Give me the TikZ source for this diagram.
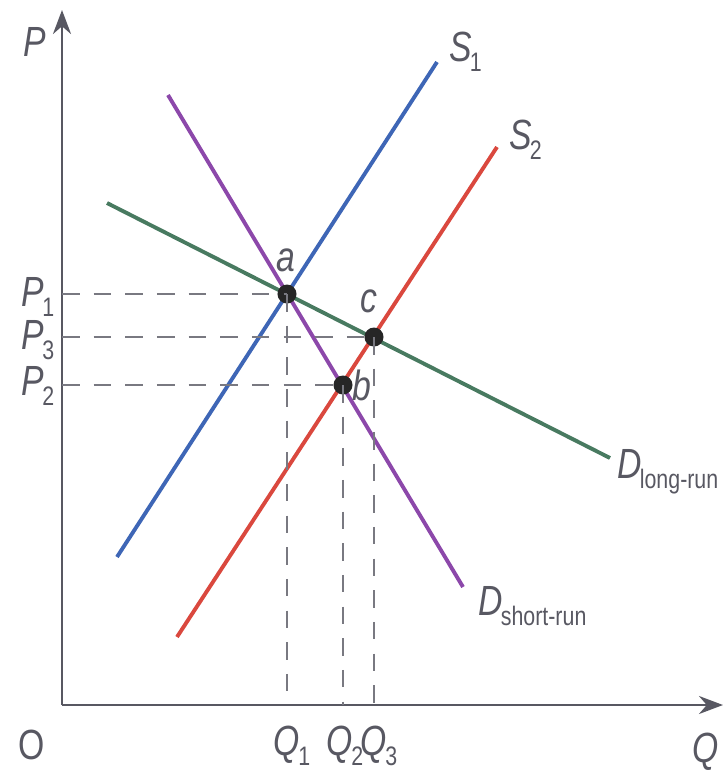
\documentclass[tikz,border=0pt]{standalone}
\usepackage{fontspec}
\setmainfont{Liberation Sans}[FakeStretch=0.8]
\usepackage{xcolor}
\usetikzlibrary{arrows.meta,positioning}
\definecolor{supone}{RGB}{62,102,182}
\definecolor{suptwo}{RGB}{218,72,62}
\definecolor{dlong}{RGB}{72,122,96}
\definecolor{dshort}{RGB}{140,72,170}
\definecolor{axisgray}{RGB}{88,88,98}
\newcommand{\lbl}[2]{\textit{#1}\kern-0.5pt\raisebox{-0.45ex}{\fontsize{7.6}{9}\selectfont #2}}

\begin{document}
\begin{tikzpicture}[x=0.01cm, y=-0.01cm, >={Stealth[length=2.4mm, width=1.8mm]},
  font=\fontsize{12}{14}\selectfont, text=axisgray,
  axis/.style={draw=axisgray, line width=0.7pt},
  curve/.style={line width=1.1pt},
  guide/.style={draw=axisgray!80, line width=0.5pt, dash pattern=on 5pt off 4pt},
  dot/.style={circle, fill=black!85, inner sep=0pt, minimum size=0.19cm},
  tag/.style={inner sep=1pt}]
\useasboundingbox (0,0) rectangle (725,772);
%% axes
\coordinate (O) at (62,705);
\coordinate (ytop) at (62,10);
\coordinate (xend) at (723,705);
\draw[axis, ->] (O) -- (ytop);
\draw[axis, ->] (O) -- (xend);
\node[tag] (plab) at (35,42) {\textit{P}};
\node[tag] (qlab) at (706,752) {\textit{Q}};
\node[tag] (olab) at (32,745) {O};
%% curves
\coordinate (s1a) at (117,557);
\coordinate (s1b) at (437,62);
\coordinate (s2a) at (177,637);
\coordinate (s2b) at (497,147);
\coordinate (dla) at (107,203);
\coordinate (dlb) at (610,458);
\coordinate (dsa) at (168,95);
\coordinate (dsb) at (463,587);
\draw[curve, supone] (s1a) -- (s1b);
\draw[curve, suptwo] (s2a) -- (s2b);
\draw[curve, dlong] (dla) -- (dlb);
\draw[curve, dshort] (dsa) -- (dsb);
%% equilibria
\node[dot] (a) at (287,294) {};
\node[dot] (c) at (374,337) {};
\node[dot] (b) at (343,385) {};
\coordinate (p1) at (62,294);
\coordinate (p3) at (62,337);
\coordinate (p2) at (62,385);
\coordinate (q1) at (287,705);
\coordinate (q3) at (374,705);
\coordinate (q2) at (343,705);
\draw[guide] (p1) -- (a.center);
\draw[guide] (p3) -- (c.center);
\draw[guide] (p2) -- (b.center);
\draw[guide] (a.center) -- (q1);
\draw[guide] (b.center) -- (q2);
\draw[guide] (c.center) -- (q3);
%% labels
\node[tag] (alab) at (286,260) {\textit{a}};
\node[tag] (clab) at (369,301) {\textit{c}};
\node[tag] (blab) at (362,385) {\textit{b}};
\node[tag] (p1lab) at (38,297) {\lbl{P}{1}};
\node[tag] (p3lab) at (38,340) {\lbl{P}{3}};
\node[tag] (p2lab) at (38,386) {\lbl{P}{2}};
\node[tag] (q1lab) at (292,746) {\lbl{Q}{1}};
\node[tag] (q2lab) at (345,746) {\lbl{Q}{2}};
\node[tag] (q3lab) at (379,746) {\lbl{Q}{3}};
\node[tag, anchor=west] (s1lab) at (445,52) {\lbl{S}{1}};
\node[tag, anchor=west] (s2lab) at (505,140) {\lbl{S}{2}};
\node[tag, anchor=west] (dllab) at (613,472) {\lbl{D}{long-run}};
\node[tag, anchor=west] (dslab) at (474,606) {\lbl{D}{short-run}};
\end{tikzpicture}
\end{document}
